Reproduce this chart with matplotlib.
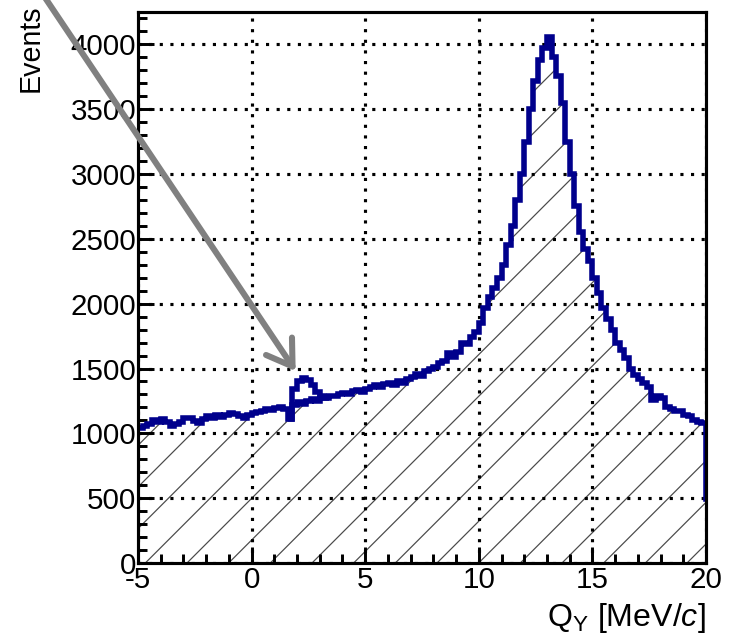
import numpy as np
import matplotlib
matplotlib.use('Agg')
import matplotlib.pyplot as plt

### data: Q_Y spectrum, 0.2 MeV/c bins from -5 (last bin lies past the axis end)
bin_lo = -5.0
bin_w = 0.2
events = [
    # -5 .. 0
    1040, 1060, 1075, 1100, 1090, 1110, 1085, 1060, 1075, 1090,
    1120, 1115, 1095, 1080, 1110, 1135, 1120, 1140, 1125, 1145,
    1160, 1150, 1130, 1115, 1145,
    # 0 .. 5
    1160, 1165, 1175, 1185, 1180, 1195, 1205, 1190, 1110, 1220,
    1240, 1225, 1250, 1265, 1250, 1280, 1270, 1290, 1285, 1300,
    1315, 1300, 1325, 1335, 1320,
    # 5 .. 10
    1345, 1360, 1370, 1355, 1380, 1390, 1375, 1400, 1390, 1420,
    1435, 1460, 1445, 1480, 1500, 1510, 1540, 1560, 1620, 1590,
    1630, 1700, 1690, 1740, 1780,
    # 10 .. 15
    1850, 1970, 2050, 2120, 2200, 2300, 2450, 2600, 2800, 3000,
    3250, 3500, 3720, 3880, 3970, 4060, 3900, 3760, 3550, 3250,
    3000, 2750, 2550, 2420, 2330,
    # 15 .. 20
    2200, 2080, 1970, 1880, 1800, 1700, 1640, 1580, 1500, 1450,
    1420, 1390, 1360, 1260, 1290, 1270, 1200, 1190, 1170, 1175,
    1140, 1130, 1100, 1090, 1080,
    # 20 .. 20.2 (outside the plotted range)
    490,
]

# signal bump on top of the background, 1.6 .. 3.4
bump_lo = 1.6
bump = [1110, 1340, 1400, 1425, 1415, 1370, 1320, 1290, 1270]

edges = bin_lo + bin_w * np.arange(len(events) + 1)
bump_edges = bump_lo + bin_w * np.arange(len(bump) + 1)

# arrow pointing at the bump (data coords)
arrow_tip = (1.94, 1480)
arrow_tail = (-10.2, 4650)

### style
plt.rcParams['font.family'] = ['Liberation Sans', 'DejaVu Sans']
plt.rcParams['mathtext.fontset'] = 'custom'
plt.rcParams['mathtext.rm'] = 'Liberation Sans'
plt.rcParams['mathtext.it'] = 'Liberation Sans:italic'
plt.rcParams['hatch.linewidth'] = 0.7
plt.rcParams['axes.unicode_minus'] = False

dpi = 125
fig = plt.figure(figsize=(730 / dpi, 640 / dpi), dpi=dpi)
ax = fig.add_axes([138 / 730, 1 - 563 / 640, 568 / 730, 551 / 640])

blue = '#00008c'

# hatched fill under the histogram
ax.stairs(events, edges, fill=True, baseline=0, facecolor='none',
          edgecolor='#4a4a4a', linewidth=0, hatch='/')
# histogram outline
ax.stairs(events, edges, baseline=None, color=blue, linewidth=3.2, zorder=3)
ax.stairs(bump, bump_edges, baseline=None, color=blue, linewidth=3.2, zorder=3)

ax.set_xlim(-5, 20)
ax.set_ylim(0, 4250)
ax.set_xticks(np.arange(-5, 21, 5))
ax.set_xticks(np.arange(-5, 21, 1), minor=True)
ax.set_yticks(np.arange(0, 4001, 500))
ax.set_yticks(np.arange(0, 4201, 100), minor=True)

ax.grid(True, which='major', color='black', linestyle=(0, (1, 2.4)), linewidth=1.8)

for s in ax.spines.values():
    s.set_linewidth(1.8)
    s.set_zorder(4)
ax.tick_params(which='both', direction='in', width=1.7, labelsize=17,
               top=False, right=False)
ax.tick_params(which='major', length=9, pad=2)
ax.tick_params(which='minor', length=5)
ax.tick_params(axis='y', pad=1)

ax.set_ylabel('Events', loc='top', fontsize=16.5)
ax.yaxis.set_label_coords(-0.164, 1.0145)
xl = ax.set_xlabel(r'Q$_{\mathrm{Y}}$ [MeV/$\mathit{c}$]', loc='right', fontsize=18.5)
xl.set_va('baseline')
ax.xaxis.set_label_coords(1.0, -0.114)

ax.annotate('', xy=arrow_tip, xytext=arrow_tail, xycoords='data',
            annotation_clip=False, zorder=10,
            arrowprops=dict(arrowstyle='->,head_length=0.7,head_width=0.45',
                            color='#808080', lw=3.5, mutation_scale=20,
                            shrinkA=0, shrinkB=0))

fig.savefig('out.png', dpi=dpi)
